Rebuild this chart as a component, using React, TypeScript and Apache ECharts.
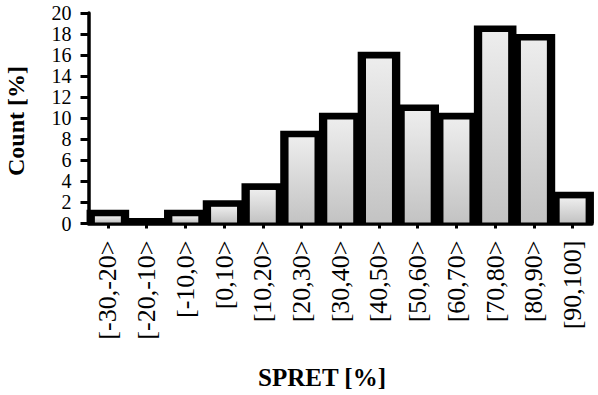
import React, { useEffect, useRef } from "react";
import * as echarts from "echarts";

const categories = [
  "[-30,-20>", "[-20,-10>", "[-10,0>", "[0,10>", "[10,20>", "[20,30>", "[30,40>",
  "[40,50>", "[50,60>", "[60,70>", "[70,80>", "[80,90>", "[90,100]",
];
const counts = [1.0, 0.2, 1.0, 1.9, 3.5, 8.5, 10.2, 16.0, 11.0, 10.2, 18.5, 17.7, 2.7];
const yMin = 0;
const yMax = 20;
const yStep = 2;
const xTitle = "SPRET [%]";
const yTitle = "Count [%]";

const FONT = "'Liberation Serif', 'Times New Roman', serif";

export default function App() {
  const ref = useRef<HTMLDivElement>(null);

  useEffect(() => {
    if (!ref.current) return;
    const chart = echarts.init(ref.current, undefined, { renderer: "svg" });
    const option: any = {
      animation: false,
      backgroundColor: "#ffffff",
      grid: {
        left: 88.5,
        right: 6,
        top: 13,
        bottom: 171.5,
        containLabel: false,
        outerBoundsMode: "none",
      },
      xAxis: {
        type: "category",
        data: categories,
        boundaryGap: true,
        axisLine: { show: true, lineStyle: { color: "#000", width: 3.5 } },
        axisTick: { show: true, alignWithLabel: true, length: 5, lineStyle: { color: "#000", width: 3 } },
        axisLabel: {
          rotate: 90,
          interval: 0,
          margin: 17,
          color: "#000",
          fontSize: 26,
          fontFamily: FONT,
        },
        splitLine: { show: false },
      },
      yAxis: {
        type: "value",
        min: yMin,
        max: yMax,
        interval: yStep,
        axisLine: { show: true, lineStyle: { color: "#000", width: 3.5 } },
        axisTick: { show: true, length: 8, lineStyle: { color: "#000", width: 3 } },
        axisLabel: {
          margin: 17,
          color: "#000",
          fontSize: 20,
          fontFamily: FONT,
          showMinLabel: true,
          showMaxLabel: true,
        },
        splitLine: { show: false },
      },
      graphic: [
        {
          type: "text",
          x: 16,
          y: 121,
          rotation: Math.PI / 2,
          style: {
            text: yTitle,
            fill: "#000",
            font: `bold 24px ${FONT}`,
            textAlign: "center",
            textVerticalAlign: "middle",
          },
        },
        {
          type: "text",
          x: 322,
          y: 377,
          style: {
            text: xTitle,
            fill: "#000",
            font: `bold 25px ${FONT}`,
            textAlign: "center",
            textVerticalAlign: "middle",
          },
        },
      ],
      series: [
        {
          type: "custom",
          clip: false,
          encode: { x: 0, y: 1 },
          data: counts.map((v, i) => [i, v]),
          renderItem: (params: any, api: any) => {
            const idx = api.value(0);
            const v = api.value(1);
            const top = api.coord([idx, v]);
            const base = api.coord([idx, 0]);
            const band = api.size([1, 0])[0];
            const ow = band * 1.1;
            const iw = band * 0.67;
            const s = 3.3;
            const innerH = Math.max(0, base[1] - 1 - (top[1] + s));
            return {
              type: "group",
              children: [
                {
                  type: "rect",
                  shape: { x: top[0] - ow / 2, y: top[1] - s, width: ow, height: base[1] - top[1] + s },
                  style: { fill: "#000" },
                },
                {
                  type: "rect",
                  shape: { x: top[0] - iw / 2, y: top[1] + s, width: iw, height: innerH },
                  style: {
                    fill: new echarts.graphic.LinearGradient(0, 0, 0, 1, [
                      { offset: 0, color: "#ededed" },
                      { offset: 1, color: "#c3c3c3" },
                    ]),
                  },
                },
              ],
            };
          },
        },
      ],
    };
    chart.setOption(option);
    return () => chart.dispose();
  }, []);

  return (
    <div
      ref={ref}
      style={{ position: "absolute", left: 0, top: 0, width: 598, height: 395, background: "#fff" }}
    />
  );
}
